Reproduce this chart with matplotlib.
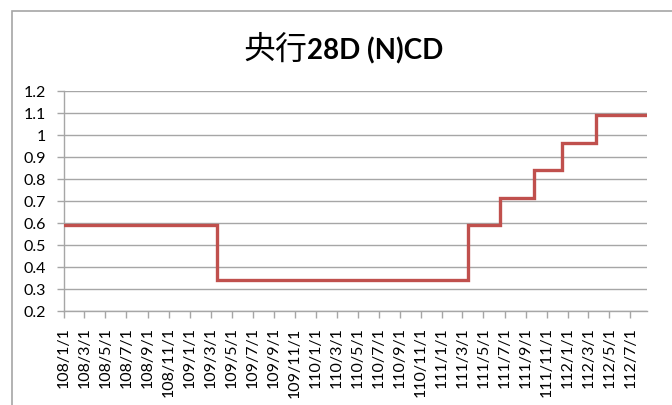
import matplotlib
matplotlib.use("Agg")
import matplotlib.pyplot as plt
import matplotlib.dates as mdates
from matplotlib.ticker import FuncFormatter, MultipleLocator
from matplotlib.patches import Rectangle
import pandas as pd

# ---- data ----
change_dates = ["2019-01-01", "2020-03-20", "2022-03-18", "2022-06-17",
                "2022-09-23", "2022-12-16", "2023-03-24", "2023-08-18"]
rates = [0.59, 0.34, 0.59, 0.715, 0.84, 0.965, 1.09, 1.09]
title_cjk = "央行"
title_latin = "28D (N)CD"
tick_start = "2019-01-01"
tick_end = "2023-07-01"

W, H = 672, 406
fig = plt.figure(figsize=(W / 100, H / 100), dpi=100)
fig.patch.set_facecolor("white")

# chart border
fig.patches.append(Rectangle((12 / W, -0.1), 2, (H - 12) / H + 0.1,
                             transform=fig.transFigure, fill=False,
                             edgecolor="#A6A6A6", linewidth=1.2))

ax = fig.add_axes([64 / W, (H - 312) / H, (647 - 64) / W, (312 - 92) / H])

dates = pd.to_datetime(change_dates)
ax.plot(dates, rates, drawstyle="steps-post", color="#C0504D", linewidth=2.4,
        solid_joinstyle="miter", zorder=3)

ax.set_ylim(0.2, 1.2)
ax.yaxis.set_major_locator(MultipleLocator(0.1))
ax.yaxis.set_major_formatter(FuncFormatter(lambda v, p: f"{v:.1f}".rstrip("0").rstrip(".") if abs(v - 1) < 1e-9 else f"{v:.1f}"))
ax.set_xlim(pd.Timestamp(tick_start), pd.Timestamp(change_dates[-1]))

ticks = pd.date_range(tick_start, tick_end, freq="2MS")
ax.set_xticks(mdates.date2num(ticks))
ax.xaxis.set_major_formatter(FuncFormatter(
    lambda x, p: (lambda d: f"{d.year - 1911}/{d.month}/{d.day}")(mdates.num2date(x))))

grid_c = "#A6A6A6"
ax.grid(axis="y", color=grid_c, linewidth=1.0)
ax.set_axisbelow(True)
for s in ["top", "right"]:
    ax.spines[s].set_visible(False)
for s in ["left", "bottom"]:
    ax.spines[s].set_color(grid_c)
    ax.spines[s].set_linewidth(1.0)

ax.tick_params(axis="both", colors=grid_c, length=5, width=1.0, labelcolor="black",
               labelsize=11.5)
ax.tick_params(axis="y", pad=8)
ax.tick_params(axis="x", pad=6)
for lab in ax.get_yticklabels() + ax.get_xticklabels():
    lab.set_family("Lato")
for lab in ax.get_xticklabels():
    lab.set_rotation(90)

# title: CJK regular + Latin bold
base_y = (H - 59) / H
t1 = fig.text(0, base_y, title_cjk, fontsize=23, family="Noto Sans CJK TC",
              va="baseline", ha="left")
t2 = fig.text(0, base_y, title_latin, fontsize=20, family="Lato",
              fontweight="bold", va="baseline", ha="left")
fig.canvas.draw()
r = fig.canvas.get_renderer()
w1 = t1.get_window_extent(r).width
w2 = t2.get_window_extent(r).width
cx = 343.5
x0 = cx - (w1 + w2) / 2
t1.set_x(x0 / W)
t2.set_x((x0 + w1) / W)

fig.savefig("out.png", dpi=100, facecolor="white")
